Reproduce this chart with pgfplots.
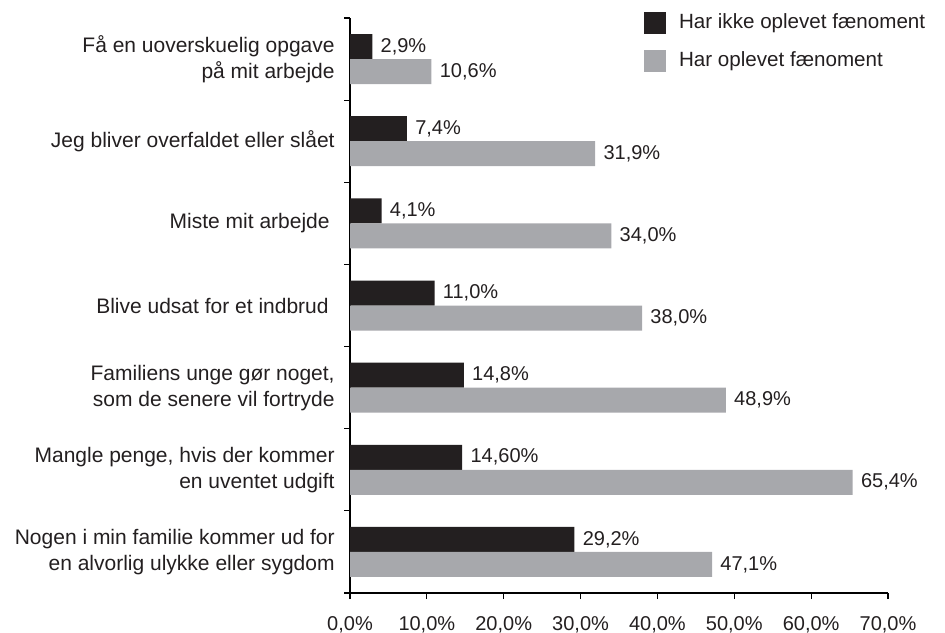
\documentclass[border=0pt]{standalone}
\usepackage{pgfplots}
\pgfplotsset{compat=1.18}
\usepackage{fontspec}
\setmainfont{Liberation Sans}
\definecolor{barblack}{HTML}{231F20}
\definecolor{bargray}{HTML}{A7A8AC}
\begin{document}
\begin{tikzpicture}[x=1pt,y=1pt]
\useasboundingbox (0,0) rectangle (472.5,316);
\begin{axis}[
  at={(175pt,19.5pt)}, anchor=south west,
  width=269pt, height=287.5pt, scale only axis,
  xmin=0, xmax=70, ymin=-0.5, ymax=6.5,
  clip=false,
  axis lines*=left,
  axis line style={line width=0.7pt, black},
  tick align=outside,
  major tick length=3pt,
  tick style={line width=0.6pt, black},
  xtick={0,10,...,70},
  xticklabels={{0,0\%},{10,0\%},{20,0\%},{30,0\%},{40,0\%},{50,0\%},{60,0\%},{70,0\%}},
  xticklabel style={font=\fontsize{10}{12}\selectfont, text=barblack, inner sep=0pt, anchor=north, yshift=-8.5pt},
  ytick={-0.5,0.5,...,6.5},
  yticklabels={},
  extra y ticks={0,1,2,3,4,5,6},
  extra y tick labels={
    {Nogen i min familie kommer ud for\\en alvorlig ulykke eller sygdom},
    {Mangle penge, hvis der kommer\\en uventet udgift},
    {Familiens unge gør noget,\\som de senere vil fortryde},
    {Blive udsat for et indbrud\hspace*{3pt}},
    {Miste mit arbejde\hspace*{2.5pt}},
    {Jeg bliver overfaldet eller slået},
    {Få en uoverskuelig opgave\\på mit arbejde}},
  extra y tick style={major tick length=0pt},
  yticklabel style={font=\fontsize{10.5}{13}\selectfont, text=barblack, align=right, inner sep=0pt, anchor=east, xshift=-7.5pt},
  xbar, bar width=12.5pt,
  point meta=explicit symbolic,
  nodes near coords,
  nodes near coords style={font=\fontsize{10}{12}\selectfont, text=barblack, anchor=west, inner sep=0pt, xshift=4pt},
  legend image code/.code={\fill[#1] (0pt,-5.5pt) rectangle (11pt,5.5pt);},
  legend cell align=left,
  legend style={at={(0.5465,1.0104)}, anchor=north west, draw=none, fill=none,
    inner sep=0pt, outer sep=0pt, row sep=8pt, column sep=6.5pt,
    font=\fontsize{10.3}{12}\selectfont, text=barblack,
    nodes={inner sep=0pt}},
]
\addplot[fill=barblack, draw=none, bar shift=6.25pt] coordinates {
  (29.2,0) [29,2\%]
  (14.6,1) [14,60\%]
  (14.8,2) [14,8\%]
  (11.0,3) [11,0\%]
  (4.1,4) [4,1\%]
  (7.4,5) [7,4\%]
  (2.9,6) [2,9\%]
};
\addlegendentry{Har ikke oplevet fænoment}
\addplot[fill=bargray, draw=none, bar shift=-6.25pt] coordinates {
  (47.1,0) [47,1\%]
  (65.4,1) [65,4\%]
  (48.9,2) [48,9\%]
  (38.0,3) [38,0\%]
  (34.0,4) [34,0\%]
  (31.9,5) [31,9\%]
  (10.6,6) [10,6\%]
};
\addlegendentry{Har oplevet fænoment}
\end{axis}
\end{tikzpicture}
\end{document}
